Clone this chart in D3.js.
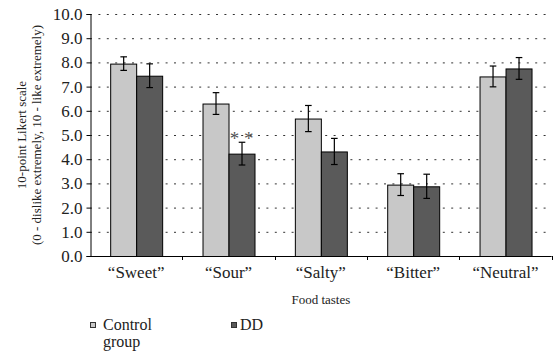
<!DOCTYPE html>
<html><head><meta charset="utf-8">
<script src="https://cdn.jsdelivr.net/npm/d3@7"></script>
<style>body{margin:0;background:#fff}svg{display:block}text,tspan{font-family:"Liberation Serif","DejaVu Serif",serif}</style>
</head><body><svg id="c" width="556" height="356"></svg>
<script>
const categories = ["\u201cSweet\u201d","\u201cSour\u201d","\u201cSalty\u201d","\u201cBitter\u201d","\u201cNeutral\u201d"];
const seriesNames = ["Control group","DD"];
const controlMean = [7.95, 6.3, 5.68, 2.95, 7.42];
const controlErr  = [0.28, 0.45, 0.54, 0.45, 0.43];
const ddMean      = [7.45, 4.23, 4.32, 2.88, 7.75];
const ddErr       = [0.49, 0.47, 0.54, 0.50, 0.45];
const significance = ["", "**", "", "", ""];
const yTicks = [0,1,2,3,4,5,6,7,8,9,10];
const colors = ["#c8c8c8", "#5a5a5a"];
const FONT = '"Liberation Serif","DejaVu Serif",serif';

const svg = d3.select("#c");
const L = 90, R = 551.7, T = 14, B = 256;
const y = d3.scaleLinear().domain([0,10]).range([B,T]);
const x0 = d3.scaleBand().domain(categories).range([L,R]).paddingInner(0.437).paddingOuter(0.2185);
const x1 = d3.scaleBand().domain(seriesNames).range([0, x0.bandwidth()]);
const step = x0.step();

// gridlines
svg.append("g").selectAll("line").data(yTicks.filter(d=>d>0)).join("line")
  .attr("x1", L).attr("x2", R).attr("y1", d=>y(d)).attr("y2", d=>y(d))
  .attr("stroke", "#333").attr("stroke-width", 1).attr("stroke-dasharray", "2,6.4")
  .attr("transform","translate(0,0.5)");

// y axis
const ya = svg.append("g").attr("transform", `translate(${L+0.5},0)`)
  .call(d3.axisLeft(y).tickValues(yTicks).tickFormat(d3.format(".1f")).tickSize(4).tickPadding(4));
ya.attr("font-family", FONT);
ya.select(".domain").attr("stroke","#000");
ya.selectAll(".tick line").attr("stroke","#000");
ya.selectAll("text").style("font-size","17px").attr("fill","#222");

// bars
const data = categories.map((c,i)=>({c, vals:[
  {s:seriesNames[0], v:controlMean[i], e:controlErr[i]},
  {s:seriesNames[1], v:ddMean[i], e:ddErr[i]}]}));
const g = svg.append("g").selectAll("g").data(data).join("g")
  .attr("transform", d=>`translate(${x0(d.c)},0)`);
g.selectAll("rect").data(d=>d.vals).join("rect")
  .attr("x", d=>x1(d.s)+0.5).attr("width", x1.bandwidth())
  .attr("y", d=>y(d.v)+0.5).attr("height", d=>y(0)-y(d.v))
  .attr("fill", (d,i)=>colors[i]).attr("stroke","#000").attr("stroke-width",1);
// error bars
const eb = g.selectAll("g.eb").data(d=>d.vals).join("g").attr("class","eb")
  .attr("transform", d=>`translate(${x1(d.s)+x1.bandwidth()/2+0.5},0)`);
eb.append("line").attr("x1",0).attr("x2",0).attr("y1",d=>y(d.v+d.e)).attr("y2",d=>y(d.v-d.e)).attr("stroke","#000").attr("stroke-width",1.2);
eb.append("line").attr("x1",-3.3).attr("x2",3.3).attr("y1",d=>y(d.v+d.e)).attr("y2",d=>y(d.v+d.e)).attr("stroke","#000").attr("stroke-width",1.2);
eb.append("line").attr("x1",-3.3).attr("x2",3.3).attr("y1",d=>y(d.v-d.e)).attr("y2",d=>y(d.v-d.e)).attr("stroke","#000").attr("stroke-width",1.2);

// significance
svg.append("g").selectAll("text").data(categories).join("text")
  .attr("x", (c)=>x0(c)+x1(seriesNames[1])+x1.bandwidth()/2)
  .attr("y", (c,i)=>y(ddMean[i]+ddErr[i])+3)
  .attr("text-anchor","middle").attr("font-family",FONT).style("font-size","19px").attr("fill","#555")
  .text((c,i)=>significance[i].split("").join(" "));

// x axis
svg.append("line").attr("x1",L).attr("x2",R).attr("y1",B+0.5).attr("y2",B+0.5).attr("stroke","#000");
const bounds = categories.map(c=>x0(c) - step*x0.paddingInner()/2 + step);
svg.append("g").selectAll("line").data(bounds).join("line")
  .attr("x1",d=>Math.round(d)+0.5).attr("x2",d=>Math.round(d)+0.5).attr("y1",B).attr("y2",B+4).attr("stroke","#000");
svg.append("g").selectAll("text").data(categories).join("text")
  .attr("x", c=>x0(c)+x0.bandwidth()/2).attr("y", 278).attr("font-family",FONT).attr("fill","#222")
  .attr("text-anchor","middle").style("font-size","17px").text(c=>c);
svg.append("text").attr("x",(L+R)/2).attr("y",304).attr("text-anchor","middle").attr("font-family",FONT).attr("fill","#222").style("font-size","13px").text("Food tastes");

// y title
const yt = svg.append("text").attr("transform","translate(0,135) rotate(-90)").attr("text-anchor","middle").attr("font-family",FONT).attr("fill","#222").style("font-size","13px");
yt.append("tspan").attr("x",0).attr("y",26).text("10-point Likert scale");
yt.append("tspan").attr("x",0).attr("y",41).text("(0 - dislike extremely, 10 - like extremely)");

// legend
const leg = svg.append("g");
const legX = [90, 231];
seriesNames.forEach((s,i)=>{
  leg.append("rect").attr("x",legX[i]+0.5).attr("y",322.5).attr("width",5).attr("height",5)
    .attr("fill",colors[i]).attr("stroke","#333").attr("stroke-width",1);
});
leg.append("text").attr("x",103).attr("y",330).attr("font-family",FONT).attr("fill","#222").style("font-size","16px").text("Control");
leg.append("text").attr("x",103).attr("y",347).attr("font-family",FONT).attr("fill","#222").style("font-size","16px").text("group");
leg.append("text").attr("x",240).attr("y",330).attr("font-family",FONT).attr("fill","#222").style("font-size","16px").text("DD");
</script></body></html>
